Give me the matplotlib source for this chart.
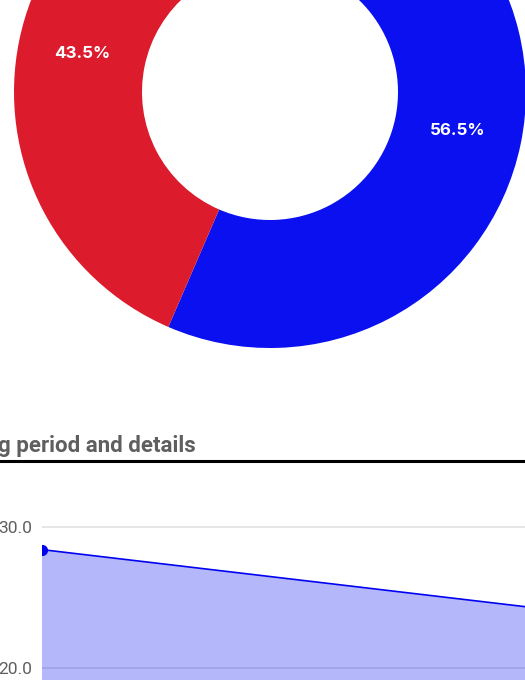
import matplotlib.pyplot as plt
from matplotlib.lines import Line2D

# donut shares (percent), clockwise from 12 o'clock
shares = [56.5, 43.5]
share_colors = ['#0a10f0', '#dc1c2c']

# line chart
point_x = [0, 1]
point_vals = [28.4, 24.3]
ytick_vals = [20, 30]

W, H = 525, 680
fig = plt.figure(figsize=(W / 100, H / 100), dpi=100)
fig.patch.set_facecolor('white')

# donut, drawn in pixel-like coords
ax_pie = fig.add_axes([0, 0, 1, 1])
wedges, texts, autotexts = ax_pie.pie(
    shares, colors=share_colors, startangle=90, counterclock=False,
    center=(270, H - 92), radius=256, autopct='%.1f%%', pctdistance=0.75,
    wedgeprops=dict(width=128, linewidth=0),
    textprops=dict(color='white', fontweight='bold', fontsize=12.2,
                   family='Inter'))
ax_pie.set_xlim(0, W)
ax_pie.set_ylim(0, H)
ax_pie.set_aspect('equal')
ax_pie.axis('off')

# section header (only the end of it is visible)
fig.text(196 / W, 1 - 452 / H, 'g period and details', ha='right',
         va='baseline', fontsize=16, fontweight='bold', color='#5f5f5f',
         family='Roboto')
fig.add_artist(Line2D([0, 1], [1 - 460.5 / H] * 2, transform=fig.transFigure,
                      color='black', lw=2.2))

# area chart
top_px, bot_px = 480, 680
left_px, right_px = 41.5, 531
ax = fig.add_axes([left_px / W, 1 - bot_px / H, (right_px - left_px) / W,
                   (bot_px - top_px) / H])
ax.set_facecolor('none')
px_per_unit = (668 - 527) / 10
ax.set_ylim(30 - (bot_px - 527) / px_per_unit, 30 + (527 - top_px) / px_per_unit)
ax.set_xlim(point_x[0], point_x[-1])
ax.set_axisbelow(True)
ax.grid(axis='y', color='#e0e0e0', lw=1.2)
ax.fill_between(point_x, point_vals, 0, color='#0a12f2', alpha=0.3, lw=0)
ax.plot(point_x, point_vals, color='#0000f0', lw=1.2, marker='o', markersize=7)
ax.set_yticks(ytick_vals)
ax.set_yticklabels(['%.1f' % v for v in ytick_vals])
ax.set_xticks([])
ax.tick_params(axis='y', length=0, pad=6.5, labelsize=12.5, labelcolor='#5f5f5f')
for lab in ax.get_yticklabels():
    lab.set_family('Roboto')
for s in ax.spines.values():
    s.set_visible(False)

fig.savefig('out.png', dpi=100)
